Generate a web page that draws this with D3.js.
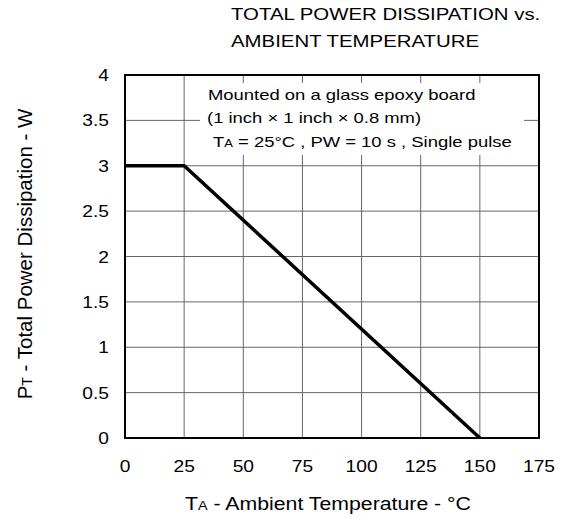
<!DOCTYPE html>
<html>
<head>
<meta charset="utf-8">
<script src="https://cdn.jsdelivr.net/npm/d3@7"></script>
<style>
body{margin:0;background:#fff;}
text{font-family:"Liberation Sans",Arial,sans-serif;fill:#000;}
</style>
</head>
<body>
<svg id="chart" width="563" height="519"></svg>
<script>
// derating curve
var tempC = [0, 25, 150];
var powerW = [3, 3, 0];
var xTicks = [0, 25, 50, 75, 100, 125, 150, 175];
var yTicks = [0, 0.5, 1, 1.5, 2, 2.5, 3, 3.5, 4];
var yTickLabels = ["0", "0.5", "1", "1.5", "2", "2.5", "3", "3.5", "4"];

var svg = d3.select("#chart");
var pL = 125, pR = 539, pT = 75, pB = 438;

var x = d3.scaleLinear().domain([0, 175]).range([pL, pR]);
var y = d3.scaleLinear().domain([0, 4]).range([pB, pT]);

// text in the reference is a bit wider than tall
function wtext(px, py, size, sx, anchor) {
    return svg.append("text")
        .attr("transform", "translate(" + px + "," + py + ") scale(" + sx + ",1)")
        .attr("text-anchor", anchor || "start")
        .style("font-size", size + "px");
}

// grid
svg.append("g").selectAll("line").data(xTicks.slice(1, -1)).join("line")
    .attr("x1", d => x(d)).attr("x2", d => x(d))
    .attr("y1", pT).attr("y2", pB)
    .style("stroke", "#666").style("stroke-width", 1);
svg.append("g").selectAll("line").data(yTicks.slice(1, -1)).join("line")
    .attr("x1", pL).attr("x2", pR)
    .attr("y1", d => y(d)).attr("y2", d => y(d))
    .style("stroke", "#666").style("stroke-width", 1);

// note box hides grid
svg.append("rect").attr("x", 200).attr("y", 83).attr("width", 324).attr("height", 72)
    .style("fill", "#fff");

// frame
svg.append("rect").attr("x", pL).attr("y", pT)
    .attr("width", pR - pL).attr("height", pB - pT)
    .style("fill", "none").style("stroke", "#000").style("stroke-width", 2);

// curve
var line = d3.line().x((d, i) => x(tempC[i])).y(d => y(d));
svg.append("path").datum(powerW).attr("d", line)
    .style("fill", "none").style("stroke", "#000").style("stroke-width", 3.5);

// tick labels
xTicks.forEach(function(d) {
    wtext(x(d), 472, 16, 1.2, "middle").text(d);
});
yTicks.forEach(function(d, i) {
    wtext(109, y(d) + 6, 16, 1.2, "end").text(yTickLabels[i]);
});

// title
wtext(231, 20, 17, 1.2).text("TOTAL POWER DISSIPATION vs.");
wtext(231, 47, 17, 1.2).text("AMBIENT TEMPERATURE");

// note
wtext(208, 100, 15, 1.23).text("Mounted on a glass epoxy board");
wtext(207, 123, 15, 1.23).text("(1 inch \u00d7 1 inch \u00d7 0.8 mm)");
var n3 = wtext(213, 146.5, 15, 1.23);
n3.append("tspan").text("T");
n3.append("tspan").style("font-size", "10.5px").text("A");
n3.append("tspan").text(" = 25\u00b0C , PW = 10 s , Single pulse");

// axis titles
var xl = wtext(328, 510, 18.5, 1.15, "middle");
xl.append("tspan").text("T");
xl.append("tspan").style("font-size", "12.5px").text("A");
xl.append("tspan").text(" - Ambient Temperature - \u00b0C");

var yl = svg.append("text").attr("transform", "translate(32,254) rotate(-90)")
    .attr("text-anchor", "middle").style("font-size", "20.5px");
yl.append("tspan").text("P");
yl.append("tspan").style("font-size", "14px").text("T");
yl.append("tspan").text(" - Total Power Dissipation - W");
</script>
</body>
</html>
